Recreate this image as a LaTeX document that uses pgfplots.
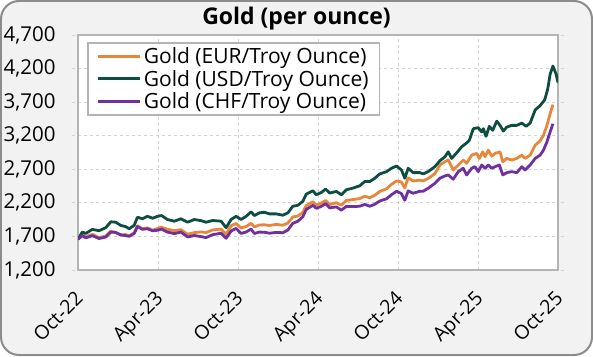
\documentclass[border=0pt]{standalone}
\usepackage{fontspec}
\setmainfont{Open Sans}
\usepackage{pgfplots}
\usepackage{pgfplotstable}
\pgfplotsset{compat=1.18}
\definecolor{ceur}{HTML}{E8873A}
\definecolor{cusd}{HTML}{0E4D42}
\definecolor{cchf}{HTML}{7030A0}
\definecolor{bgc}{HTML}{F2F2F2}
\definecolor{bord}{HTML}{8C8C8C}
\definecolor{framec}{HTML}{B4B4B4}
\definecolor{gridc}{HTML}{D3D3D3}

\pgfplotstableread{
m v
0 1657
0.32 1765
0.58 1745
1.08 1805
1.58 1785
2.08 1830
2.46 1918
2.83 1912
3.21 1864
3.59 1845
3.83 1815
4.21 1864
4.46 1986
4.83 1963
5.21 2000
5.59 1971
5.96 2000
6.26 2011
6.71 1952
7.22 1927
7.72 1963
8.22 1912
8.72 1952
9.23 1935
9.6 1912
10.1 1937
10.73 1927
11.11 1830
11.48 1952
11.86 2000
12.23 1952
12.61 2000
12.98 2066
13.23 2011
13.61 2051
13.98 2060
14.36 2036
14.86 2036
15.36 2016
15.74 2051
16.11 2149
16.49 2164
16.86 2222
17.12 2331
17.62 2380
17.87 2321
18.25 2355
18.57 2405
18.87 2346
19.38 2370
19.75 2321
20.13 2395
20.62 2420
21.13 2454
21.5 2517
21.88 2517
22.26 2567
22.63 2631
23.14 2665
23.51 2715
23.89 2749
24.26 2690
24.51 2567
24.76 2715
25.14 2650
25.64 2650
25.89 2631
26.26 2665
26.77 2740
27.14 2827
27.52 2886
27.77 2960
28.02 2862
28.4 2945
28.77 3034
29.15 3093
29.35 3132
29.65 3305
30.02 3320
30.28 3255
30.4 3305
30.6 3191
30.85 3340
31.1 3280
31.41 3417
31.65 3354
31.9 3270
32.16 3329
32.53 3354
32.91 3354
33.29 3388
33.61 3340
33.91 3388
34.29 3585
34.66 3649
35.0 3733
35.23 3895
35.41 4116
35.62 4238
35.86 4116
36 3992
}\usdtab

\pgfplotstableread{
m v
0 1674
0.32 1730
0.58 1697
1.08 1731
1.58 1681
2.08 1707
2.46 1778
2.83 1759
3.21 1723
3.59 1728
3.83 1707
4.21 1752
4.46 1858
4.83 1813
5.21 1828
5.59 1792
5.96 1818
6.26 1837
6.71 1807
7.22 1786
7.72 1801
8.22 1733
8.72 1757
9.23 1767
9.6 1757
10.1 1797
10.73 1809
11.11 1730
11.48 1859
11.86 1892
12.23 1826
12.61 1848
12.98 1895
13.23 1842
13.61 1871
13.98 1873
14.36 1863
14.86 1880
15.36 1867
15.74 1899
16.11 1990
16.49 2004
16.86 2057
17.12 2160
17.62 2216
17.87 2167
18.25 2197
18.57 2235
18.87 2174
19.38 2203
19.75 2165
20.13 2236
20.62 2249
21.13 2264
21.5 2299
21.88 2276
22.26 2313
22.63 2370
23.14 2410
23.51 2475
23.89 2527
24.26 2509
24.51 2422
24.76 2573
25.14 2526
25.64 2538
25.89 2527
26.26 2563
26.77 2635
27.14 2764
27.52 2813
27.77 2838
28.14 2690
28.52 2764
28.89 2838
29.15 2789
29.53 2912
29.9 2936
30.1 2862
30.35 2960
30.53 2887
30.77 2985
31.03 2896
31.28 2936
31.65 2960
31.86 2813
32.16 2862
32.53 2838
32.91 2862
33.29 2911
33.53 2862
33.91 2911
34.29 3059
34.66 3123
34.91 3207
35.17 3354
35.41 3527
35.62 3663
}\eurtab

\pgfplotstableread{
m v
0 1657
0.32 1712
0.58 1679
1.08 1711
1.58 1669
2.08 1691
2.46 1766
2.83 1759
3.21 1722
3.59 1712
3.83 1701
4.21 1743
4.46 1847
4.83 1806
5.21 1814
5.59 1784
5.96 1792
6.26 1810
6.71 1765
7.22 1742
7.72 1765
8.22 1692
8.72 1714
9.23 1697
9.6 1683
10.1 1726
10.73 1748
11.11 1673
11.48 1780
11.86 1820
12.23 1745
12.61 1766
12.98 1810
13.23 1744
13.61 1765
13.98 1762
14.36 1748
14.86 1760
15.36 1755
15.74 1795
16.11 1895
16.49 1926
16.86 1993
17.12 2103
17.62 2163
17.87 2119
18.25 2148
18.57 2189
18.87 2125
19.38 2140
19.75 2091
20.13 2148
20.62 2144
21.13 2150
21.5 2177
21.88 2150
22.26 2179
22.63 2228
23.14 2260
23.51 2321
23.89 2372
24.26 2338
24.51 2238
24.76 2378
25.14 2343
25.64 2374
25.89 2373
26.26 2417
26.77 2491
27.14 2567
27.52 2601
27.77 2616
28.14 2552
28.52 2665
28.89 2715
29.15 2616
29.53 2715
29.77 2739
30.02 2665
30.28 2764
30.53 2715
30.77 2764
31.03 2715
31.28 2739
31.6 2764
31.86 2616
32.16 2650
32.53 2665
32.91 2650
33.29 2739
33.53 2690
33.91 2764
34.29 2862
34.66 2911
34.91 2985
35.17 3108
35.41 3255
35.62 3378
}\chftab

\begin{document}
\begin{tikzpicture}[x=1pt,y=1pt]
\useasboundingbox (-78,-86) rectangle (515,270);
\filldraw[fill=bgc, draw=bord, line width=2pt, rounded corners=18pt] (-77,-85) rectangle (514,269);
\node[font=\fontsize{23}{27}\selectfont\bfseries] at (218.5,251) {Gold (per ounce)};
\begin{axis}[
  at={(0,0)}, anchor=south west,
  scale only axis, width=480pt, height=235pt,
  xmin=0, xmax=36, ymin=1200, ymax=4700,
  xtick={0,6,...,36},
  xticklabels={Oct-22,Apr-23,Oct-23,Apr-24,Oct-24,Apr-25,Oct-25},
  ytick={1200,1700,...,4700},
  grid=major,
  grid style={gridc, dashed, line width=1pt},
  axis line style={framec, line width=2pt},
  axis background/.style={fill=white},
  tick align=outside,
  xtick style={draw=none},
  ytick style={gridc, dashed, line width=1pt},
  major tick length=6pt,
  ticklabel style={font=\fontsize{20.5}{24}\selectfont},
  /pgf/number format/assume math mode=true,
  /pgf/number format/1000 sep={,},
  yticklabel style={xshift=-13pt},
  xticklabel style={font=\fontsize{19.5}{23}\selectfont, xshift=-4pt, yshift=-9pt, rotate=45, anchor=north east},
  legend style={at={(0.019,0.97)}, anchor=north west, draw=framec, line width=1.5pt,
    font=\fontsize{21}{24}\selectfont, inner xsep=9pt, inner ysep=3pt,
    row sep=1pt},
  legend cell align=left,
  legend image code/.code={\draw[#1, line width=3pt] (0pt,0pt) -- (42pt,0pt);},
  every axis plot/.append style={line width=2.8pt, line join=round, no markers},
]
\addplot[ceur] table[x=m, y=v] {\eurtab};
\addplot[cusd] table[x=m, y=v] {\usdtab};
\addplot[cchf] table[x=m, y=v] {\chftab};
\legend{Gold (EUR/Troy Ounce), Gold (USD/Troy Ounce), Gold (CHF/Troy Ounce)}
\end{axis}
\end{tikzpicture}
\end{document}
